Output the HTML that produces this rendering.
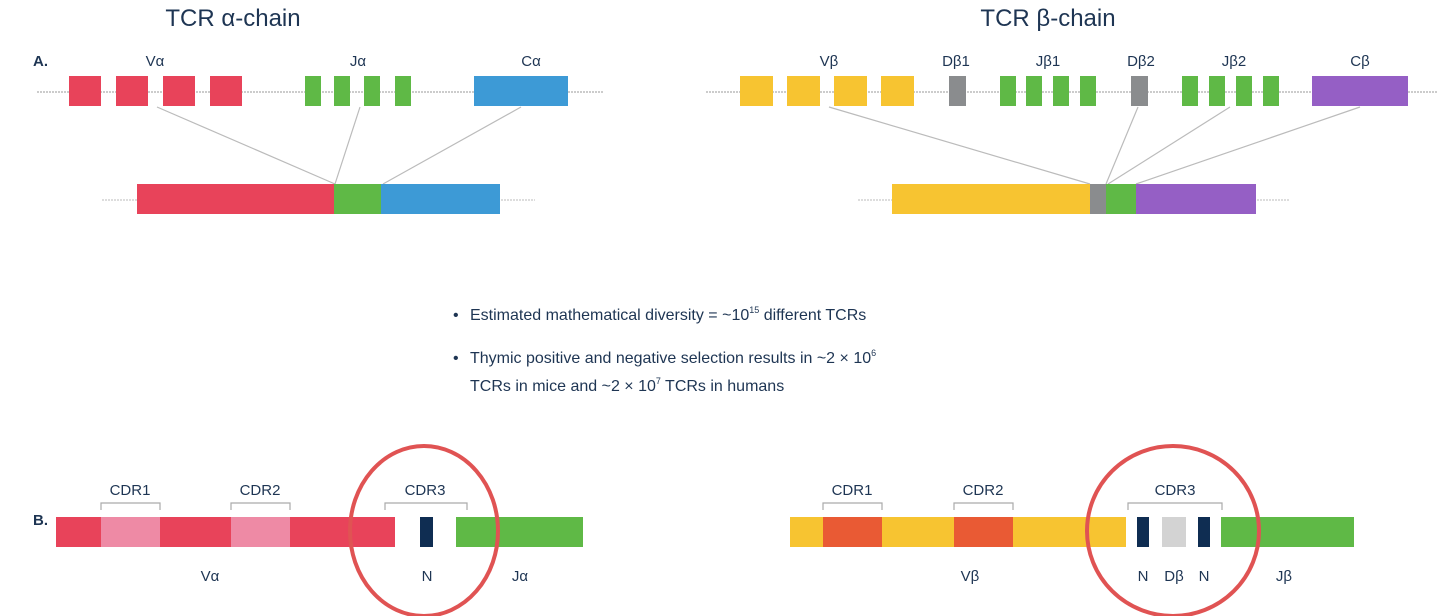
<!DOCTYPE html>
<html><head><meta charset="utf-8"><style>
html,body{margin:0;padding:0;background:#fff;}
svg{display:block;font-family:"Liberation Sans",sans-serif;}
text{fill:#1e3553;}
</style></head><body>
<svg width="1438" height="616" viewBox="0 0 1438 616">
<g><text x="233" y="26" font-size="24" text-anchor="middle">TCR α-chain</text></g>
<g><text x="1048" y="26" font-size="24" text-anchor="middle">TCR β-chain</text></g>
<text x="33" y="66" font-size="15" font-weight="bold">A.</text>
<text x="33" y="525" font-size="15" font-weight="bold">B.</text>

<g>
<line x1="37" y1="92" x2="603" y2="92" stroke="#999" stroke-dasharray="2,1"/>
<rect x="69" y="76" width="32" height="30" fill="#e8435a"/><rect x="116" y="76" width="32" height="30" fill="#e8435a"/>
<rect x="163" y="76" width="32" height="30" fill="#e8435a"/><rect x="210" y="76" width="32" height="30" fill="#e8435a"/>
<rect x="305" y="76" width="16" height="30" fill="#5fb946"/><rect x="334" y="76" width="16" height="30" fill="#5fb946"/>
<rect x="364" y="76" width="16" height="30" fill="#5fb946"/><rect x="395" y="76" width="16" height="30" fill="#5fb946"/>
<rect x="474" y="76" width="94" height="30" fill="#3d9ad6"/>
<text x="155" y="66" font-size="15" text-anchor="middle">Vα</text>
<text x="358" y="66" font-size="15" text-anchor="middle">Jα</text>
<text x="531" y="66" font-size="15" text-anchor="middle">Cα</text>
</g>
<g stroke="#bbb" stroke-width="1.2">
<line x1="157" y1="107" x2="335" y2="184"/><line x1="360" y1="107" x2="335" y2="184"/><line x1="521" y1="107" x2="383" y2="184"/>
</g>
<g>
<line x1="102" y1="200" x2="535" y2="200" stroke="#bbb" stroke-dasharray="2,1"/>
<rect x="137" y="184" width="197" height="30" fill="#e8435a"/>
<rect x="334" y="184" width="47" height="30" fill="#5fb946"/>
<rect x="381" y="184" width="119" height="30" fill="#3d9ad6"/>
</g>

<g>
<line x1="706" y1="92" x2="1438" y2="92" stroke="#999" stroke-dasharray="2,1"/>
<rect x="740" y="76" width="33" height="30" fill="#f7c431"/><rect x="787" y="76" width="33" height="30" fill="#f7c431"/>
<rect x="834" y="76" width="33" height="30" fill="#f7c431"/><rect x="881" y="76" width="33" height="30" fill="#f7c431"/>
<rect x="949" y="76" width="17" height="30" fill="#8a8c8e"/>
<rect x="1000" y="76" width="16" height="30" fill="#5fb946"/><rect x="1026" y="76" width="16" height="30" fill="#5fb946"/>
<rect x="1053" y="76" width="16" height="30" fill="#5fb946"/><rect x="1080" y="76" width="16" height="30" fill="#5fb946"/>
<rect x="1131" y="76" width="17" height="30" fill="#8a8c8e"/>
<rect x="1182" y="76" width="16" height="30" fill="#5fb946"/><rect x="1209" y="76" width="16" height="30" fill="#5fb946"/>
<rect x="1236" y="76" width="16" height="30" fill="#5fb946"/><rect x="1263" y="76" width="16" height="30" fill="#5fb946"/>
<rect x="1312" y="76" width="96" height="30" fill="#955fc5"/>
<text x="829" y="66" font-size="15" text-anchor="middle">Vβ</text>
<text x="956" y="66" font-size="15" text-anchor="middle">Dβ1</text>
<text x="1048" y="66" font-size="15" text-anchor="middle">Jβ1</text>
<text x="1141" y="66" font-size="15" text-anchor="middle">Dβ2</text>
<text x="1234" y="66" font-size="15" text-anchor="middle">Jβ2</text>
<text x="1360" y="66" font-size="15" text-anchor="middle">Cβ</text>
</g>
<g stroke="#bbb" stroke-width="1.2">
<line x1="829" y1="107" x2="1090" y2="184"/><line x1="1138" y1="107" x2="1106" y2="184"/>
<line x1="1230" y1="107" x2="1108" y2="184"/><line x1="1360" y1="107" x2="1136" y2="184"/>
</g>
<g>
<line x1="858" y1="200" x2="1290" y2="200" stroke="#bbb" stroke-dasharray="2,1"/>
<rect x="892" y="184" width="198" height="30" fill="#f7c431"/>
<rect x="1090" y="184" width="16" height="30" fill="#8a8c8e"/>
<rect x="1106" y="184" width="30" height="30" fill="#5fb946"/>
<rect x="1136" y="184" width="120" height="30" fill="#955fc5"/>
</g>

<g font-size="16">
<text x="453" y="320">•</text>
<text x="470" y="320">Estimated mathematical diversity = ~10<tspan font-size="9" dy="-7">15</tspan><tspan dy="7"> different TCRs</tspan></text>
<text x="453" y="363">•</text>
<text x="470" y="363">Thymic positive and negative selection results in ~2 × 10<tspan font-size="9" dy="-7">6</tspan></text>
<text x="470" y="391">TCRs in mice and ~2 × 10<tspan font-size="9" dy="-7">7</tspan><tspan dy="7"> TCRs in humans</tspan></text>
</g>

<g>
<rect x="56" y="517" width="45" height="30" fill="#e8435a"/>
<rect x="101" y="517" width="59" height="30" fill="#ee8aa5"/>
<rect x="160" y="517" width="71" height="30" fill="#e8435a"/>
<rect x="231" y="517" width="59" height="30" fill="#ee8aa5"/>
<rect x="290" y="517" width="105" height="30" fill="#e8435a"/>
<rect x="420" y="517" width="13" height="30" fill="#0f2d52"/>
<rect x="456" y="517" width="127" height="30" fill="#5fb946"/>
<g fill="none" stroke="#aaa" stroke-width="1.2">
<path d="M101 510 V503 H160 V510"/><path d="M231 510 V503 H290 V510"/><path d="M385 510 V503 H467 V510"/>
</g>
<text x="130" y="495" font-size="15" text-anchor="middle">CDR1</text>
<text x="260" y="495" font-size="15" text-anchor="middle">CDR2</text>
<text x="425" y="495" font-size="15" text-anchor="middle">CDR3</text>
<text x="210" y="581" font-size="15" text-anchor="middle">Vα</text>
<text x="427" y="581" font-size="15" text-anchor="middle">N</text>
<text x="520" y="581" font-size="15" text-anchor="middle">Jα</text>
<ellipse cx="424" cy="531" rx="74" ry="85" fill="none" stroke="#e05353" stroke-width="4"/>
</g>

<g>
<rect x="790" y="517" width="33" height="30" fill="#f7c431"/>
<rect x="823" y="517" width="59" height="30" fill="#e95a34"/>
<rect x="882" y="517" width="72" height="30" fill="#f7c431"/>
<rect x="954" y="517" width="59" height="30" fill="#e95a34"/>
<rect x="1013" y="517" width="113" height="30" fill="#f7c431"/>
<rect x="1137" y="517" width="12" height="30" fill="#0f2d52"/>
<rect x="1162" y="517" width="24" height="30" fill="#d3d3d3"/>
<rect x="1198" y="517" width="12" height="30" fill="#0f2d52"/>
<rect x="1221" y="517" width="133" height="30" fill="#5fb946"/>
<g fill="none" stroke="#aaa" stroke-width="1.2">
<path d="M823 510 V503 H882 V510"/><path d="M954 510 V503 H1013 V510"/><path d="M1128 510 V503 H1222 V510"/>
</g>
<text x="852" y="495" font-size="15" text-anchor="middle">CDR1</text>
<text x="983" y="495" font-size="15" text-anchor="middle">CDR2</text>
<text x="1175" y="495" font-size="15" text-anchor="middle">CDR3</text>
<text x="970" y="581" font-size="15" text-anchor="middle">Vβ</text>
<text x="1143" y="581" font-size="15" text-anchor="middle">N</text>
<text x="1174" y="581" font-size="15" text-anchor="middle">Dβ</text>
<text x="1204" y="581" font-size="15" text-anchor="middle">N</text>
<text x="1284" y="581" font-size="15" text-anchor="middle">Jβ</text>
<ellipse cx="1173" cy="531" rx="86" ry="85" fill="none" stroke="#e05353" stroke-width="4"/>
</g>
</svg>
</body></html>
